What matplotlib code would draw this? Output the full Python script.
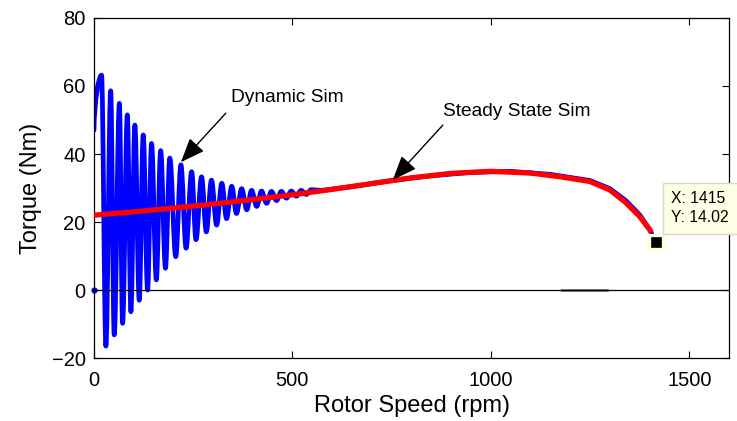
import matplotlib
matplotlib.use("Agg")
import matplotlib.pyplot as plt
from matplotlib.path import Path
from matplotlib.patches import PathPatch

plt.rcParams['font.family'] = ['Liberation Sans', 'DejaVu Sans']

# ---- data ----
start_point = (0, 47.0)
peak_rpm = [19, 42, 64, 84, 103, 124, 145, 168, 191, 219, 246, 271, 296, 322,
            347, 372, 397, 422, 447, 472, 497, 522, 547]
peak_T = [63.2, 58.6, 54.9, 51.5, 48.5, 45.6, 43.1, 41.0, 38.8, 36.8, 34.8,
          33.3, 32.3, 31.4, 30.5, 29.8, 29.3, 29.1, 29.0, 29.0, 29.1, 29.3, 29.5]
trough_rpm = [30, 51, 72, 93, 114, 135, 157, 180, 206, 232, 257, 283, 309, 334,
              359, 385, 410, 435, 460, 485, 510, 535]
trough_T = [-16.5, -13.2, -9.8, -6.4, -3.0, 0.0, 3.0, 6.4, 9.8, 12.3, 14.8, 17.1,
            19.1, 21.0, 22.5, 23.6, 24.6, 25.5, 26.3, 27.0, 27.6, 28.1]
tail_rpm = [575, 650, 750, 850, 950, 1050, 1150, 1250, 1300, 1340, 1375, 1400, 1415]
tail_T = [29.3, 30.4, 32.2, 33.6, 34.6, 34.9, 34.0, 32.2, 29.8, 26.3, 22.1, 17.8, 14.02]

red_rpm = [0, 100, 200, 300, 400, 500, 600, 700, 800, 900, 1000, 1100, 1175,
           1250, 1300, 1340, 1375, 1405]
red_T = [22.0, 23.0, 24.1, 25.3, 26.6, 28.0, 29.6, 31.3, 33.0, 34.3, 34.9, 34.4,
         33.3, 31.9, 29.4, 25.7, 21.6, 17.0]

zero_extra_rpm = [1179, 1292]
datatip_x, datatip_y = 1415, 14.02

x_ticks = [0, 500, 1000, 1500]
y_ticks = [-20, 0, 20, 40, 60, 80]

# ---- figure ----
fig = plt.figure(figsize=(7.37, 4.21), dpi=100)
ax = fig.add_axes([94 / 737, 63 / 421, 635 / 737, 340 / 421])

# dynamic curve: smooth S-segments between the read extrema
ext = [start_point]
for i in range(len(peak_rpm)):
    ext.append((peak_rpm[i], peak_T[i]))
    if i < len(trough_rpm):
        ext.append((trough_rpm[i], trough_T[i]))
ext.append((tail_rpm[0], tail_T[0]))

verts = [ext[0]]
codes = [Path.MOVETO]
for (x0, y0), (x1, y1) in zip(ext[:-1], ext[1:]):
    dx = x1 - x0
    if (x0, y0) == start_point:
        c1 = (x0 + 0.05 * dx, y0 + 0.55 * (y1 - y0))
    else:
        c1 = (x0 + 0.36 * dx, y0)
    c2 = (x1 - 0.36 * dx, y1)
    verts += [c1, c2, (x1, y1)]
    codes += [Path.CURVE4] * 3
for x, y in zip(tail_rpm[1:], tail_T[1:]):
    verts.append((x, y))
    codes.append(Path.LINETO)
dyn = PathPatch(Path(verts, codes), fill=False, edgecolor='#0000FF', lw=3.4,
                capstyle='round', joinstyle='round', zorder=2)
ax.add_patch(dyn)
ax.plot([0], [0], marker='o', ms=3.5, color='#0000FF', zorder=2, clip_on=False)

# steady-state curve
ax.plot(red_rpm, red_T, color='#FF0000', lw=3.8, solid_capstyle='butt',
        solid_joinstyle='round', zorder=3)

# zero line
ax.plot(zero_extra_rpm, [0, 0], color='#777777', lw=2.0, zorder=3.5)
ax.axhline(0, color='black', lw=0.9, zorder=4)

# data tip
ax.plot([datatip_x], [datatip_y], marker='s', ms=9.4, mfc='black', mec='#FFFFD8',
        mew=2.4, zorder=6, clip_on=False)
ax.text(1455, 29.0, "X: %d\nY: %.2f" % (datatip_x, datatip_y), fontsize=11.3,
        ha='left', va='top', linespacing=1.3, zorder=7,
        bbox=dict(boxstyle='square,pad=0.55', fc='#FFFFE6', ec='#D8D8C8', lw=1.0))

# annotations
arrow = dict(arrowstyle='-|>,head_length=0.75,head_width=0.3', color='black',
             lw=1.0, mutation_scale=20, shrinkA=0, shrinkB=0)
ax.annotate('', xy=(219, 37.6), xytext=(332, 52.0), arrowprops=arrow, zorder=8)
ax.text(486, 56.7, 'Dynamic Sim', fontsize=13.8, ha='center', va='center')
ax.annotate('', xy=(753, 32.4), xytext=(879, 48.5), arrowprops=arrow, zorder=8)
ax.text(1066, 52.5, 'Steady State Sim', fontsize=13.8, ha='center', va='center')

ax.set_xlim(0, 1600)
ax.set_ylim(-20, 80)
ax.set_xticks(x_ticks)
ax.set_yticks(y_ticks)
ax.tick_params(direction='in', length=5, width=0.8, top=True, right=True,
               labelsize=14.5)
ax.tick_params(axis='x', pad=9)
ax.tick_params(axis='y', pad=6)
for s in ax.spines.values():
    s.set_linewidth(0.9)
ax.set_xlabel('Rotor Speed (rpm)', fontsize=17, labelpad=4)
ax.set_ylabel('Torque (Nm)', fontsize=17, labelpad=7)

fig.savefig('out.png', dpi=100)
